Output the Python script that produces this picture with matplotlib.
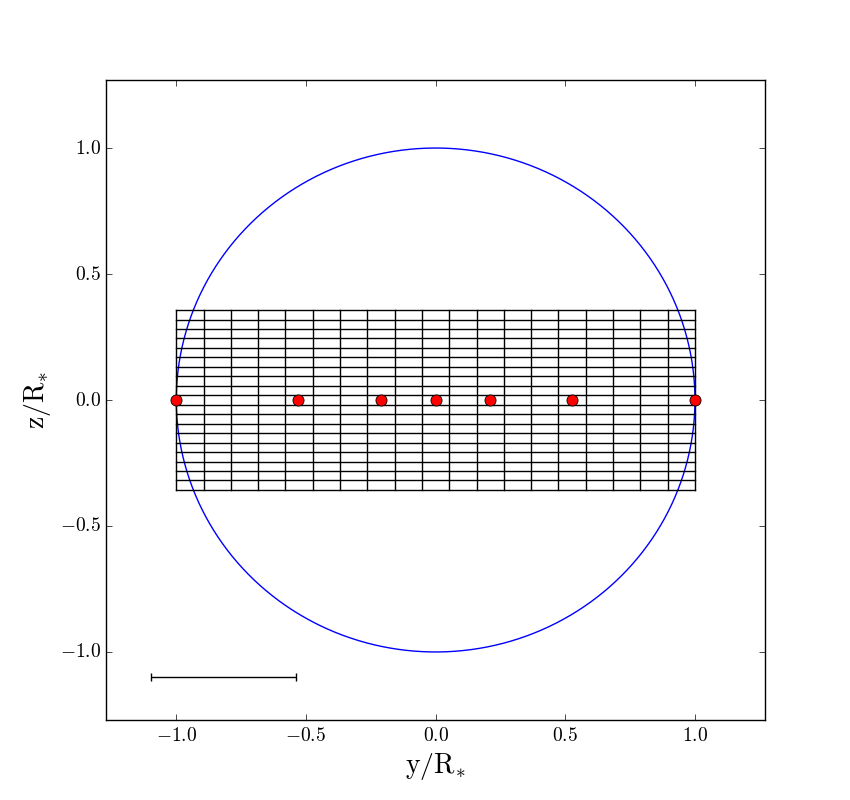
import matplotlib
matplotlib.use('Agg')
import matplotlib.pyplot as plt
import numpy as np
from matplotlib.ticker import FuncFormatter

plt.style.use('classic')
plt.rcParams['mathtext.fontset'] = 'cm'

# Stellar disc and grid extent (units of R_*)
star_radius = 1.0
grid_y = np.linspace(-1.0, 1.0, 20)
grid_z = np.linspace(-0.357, 0.357, 20)

# Positions of the sampled points along the transit chord
point_y = [-1.0, -0.529, -0.211, 0.0, 0.209, 0.526, 1.0]
point_z = [0.0, 0.0, 0.0, 0.0, 0.0, 0.0, 0.0]

# Scale bar
bar_center = (-0.819, -1.10)
bar_half = 0.28

fig = plt.figure(figsize=(8.5, 8), dpi=100)
ax = fig.add_subplot(111)
fig.subplots_adjust(left=0.125, right=0.9, bottom=0.1, top=0.9)

theta = np.linspace(0, 2 * np.pi, 400)
ax.plot(star_radius * np.cos(theta), star_radius * np.sin(theta), color='b', lw=1)

for gy in grid_y:
    ax.plot([gy, gy], [grid_z[0], grid_z[-1]], color='k', lw=1)
for gz in grid_z:
    ax.plot([grid_y[0], grid_y[-1]], [gz, gz], color='k', lw=1)

ax.plot(point_y, point_z, 'o', color='r', mec='k', mew=0.6, ms=8, zorder=5)

ax.errorbar(bar_center[0], bar_center[1], xerr=bar_half, color='k', lw=1,
            capsize=3, capthick=1, fmt='none')

ax.set_xlim(-1.27, 1.27)
ax.set_ylim(-1.27, 1.27)
ax.set_xticks([-1.0, -0.5, 0.0, 0.5, 1.0])
ax.set_yticks([-1.0, -0.5, 0.0, 0.5, 1.0])
fmt = FuncFormatter(lambda v, p: r'$%.1f$' % v)
ax.xaxis.set_major_formatter(fmt)
ax.yaxis.set_major_formatter(fmt)
ax.tick_params(labelsize=14)
ax.set_xlabel(r'$\mathrm{y/R_{*}}$', fontsize=20)
ax.set_ylabel(r'$\mathrm{z/R_{*}}$', fontsize=20)

fig.savefig('out.png', dpi=100)
